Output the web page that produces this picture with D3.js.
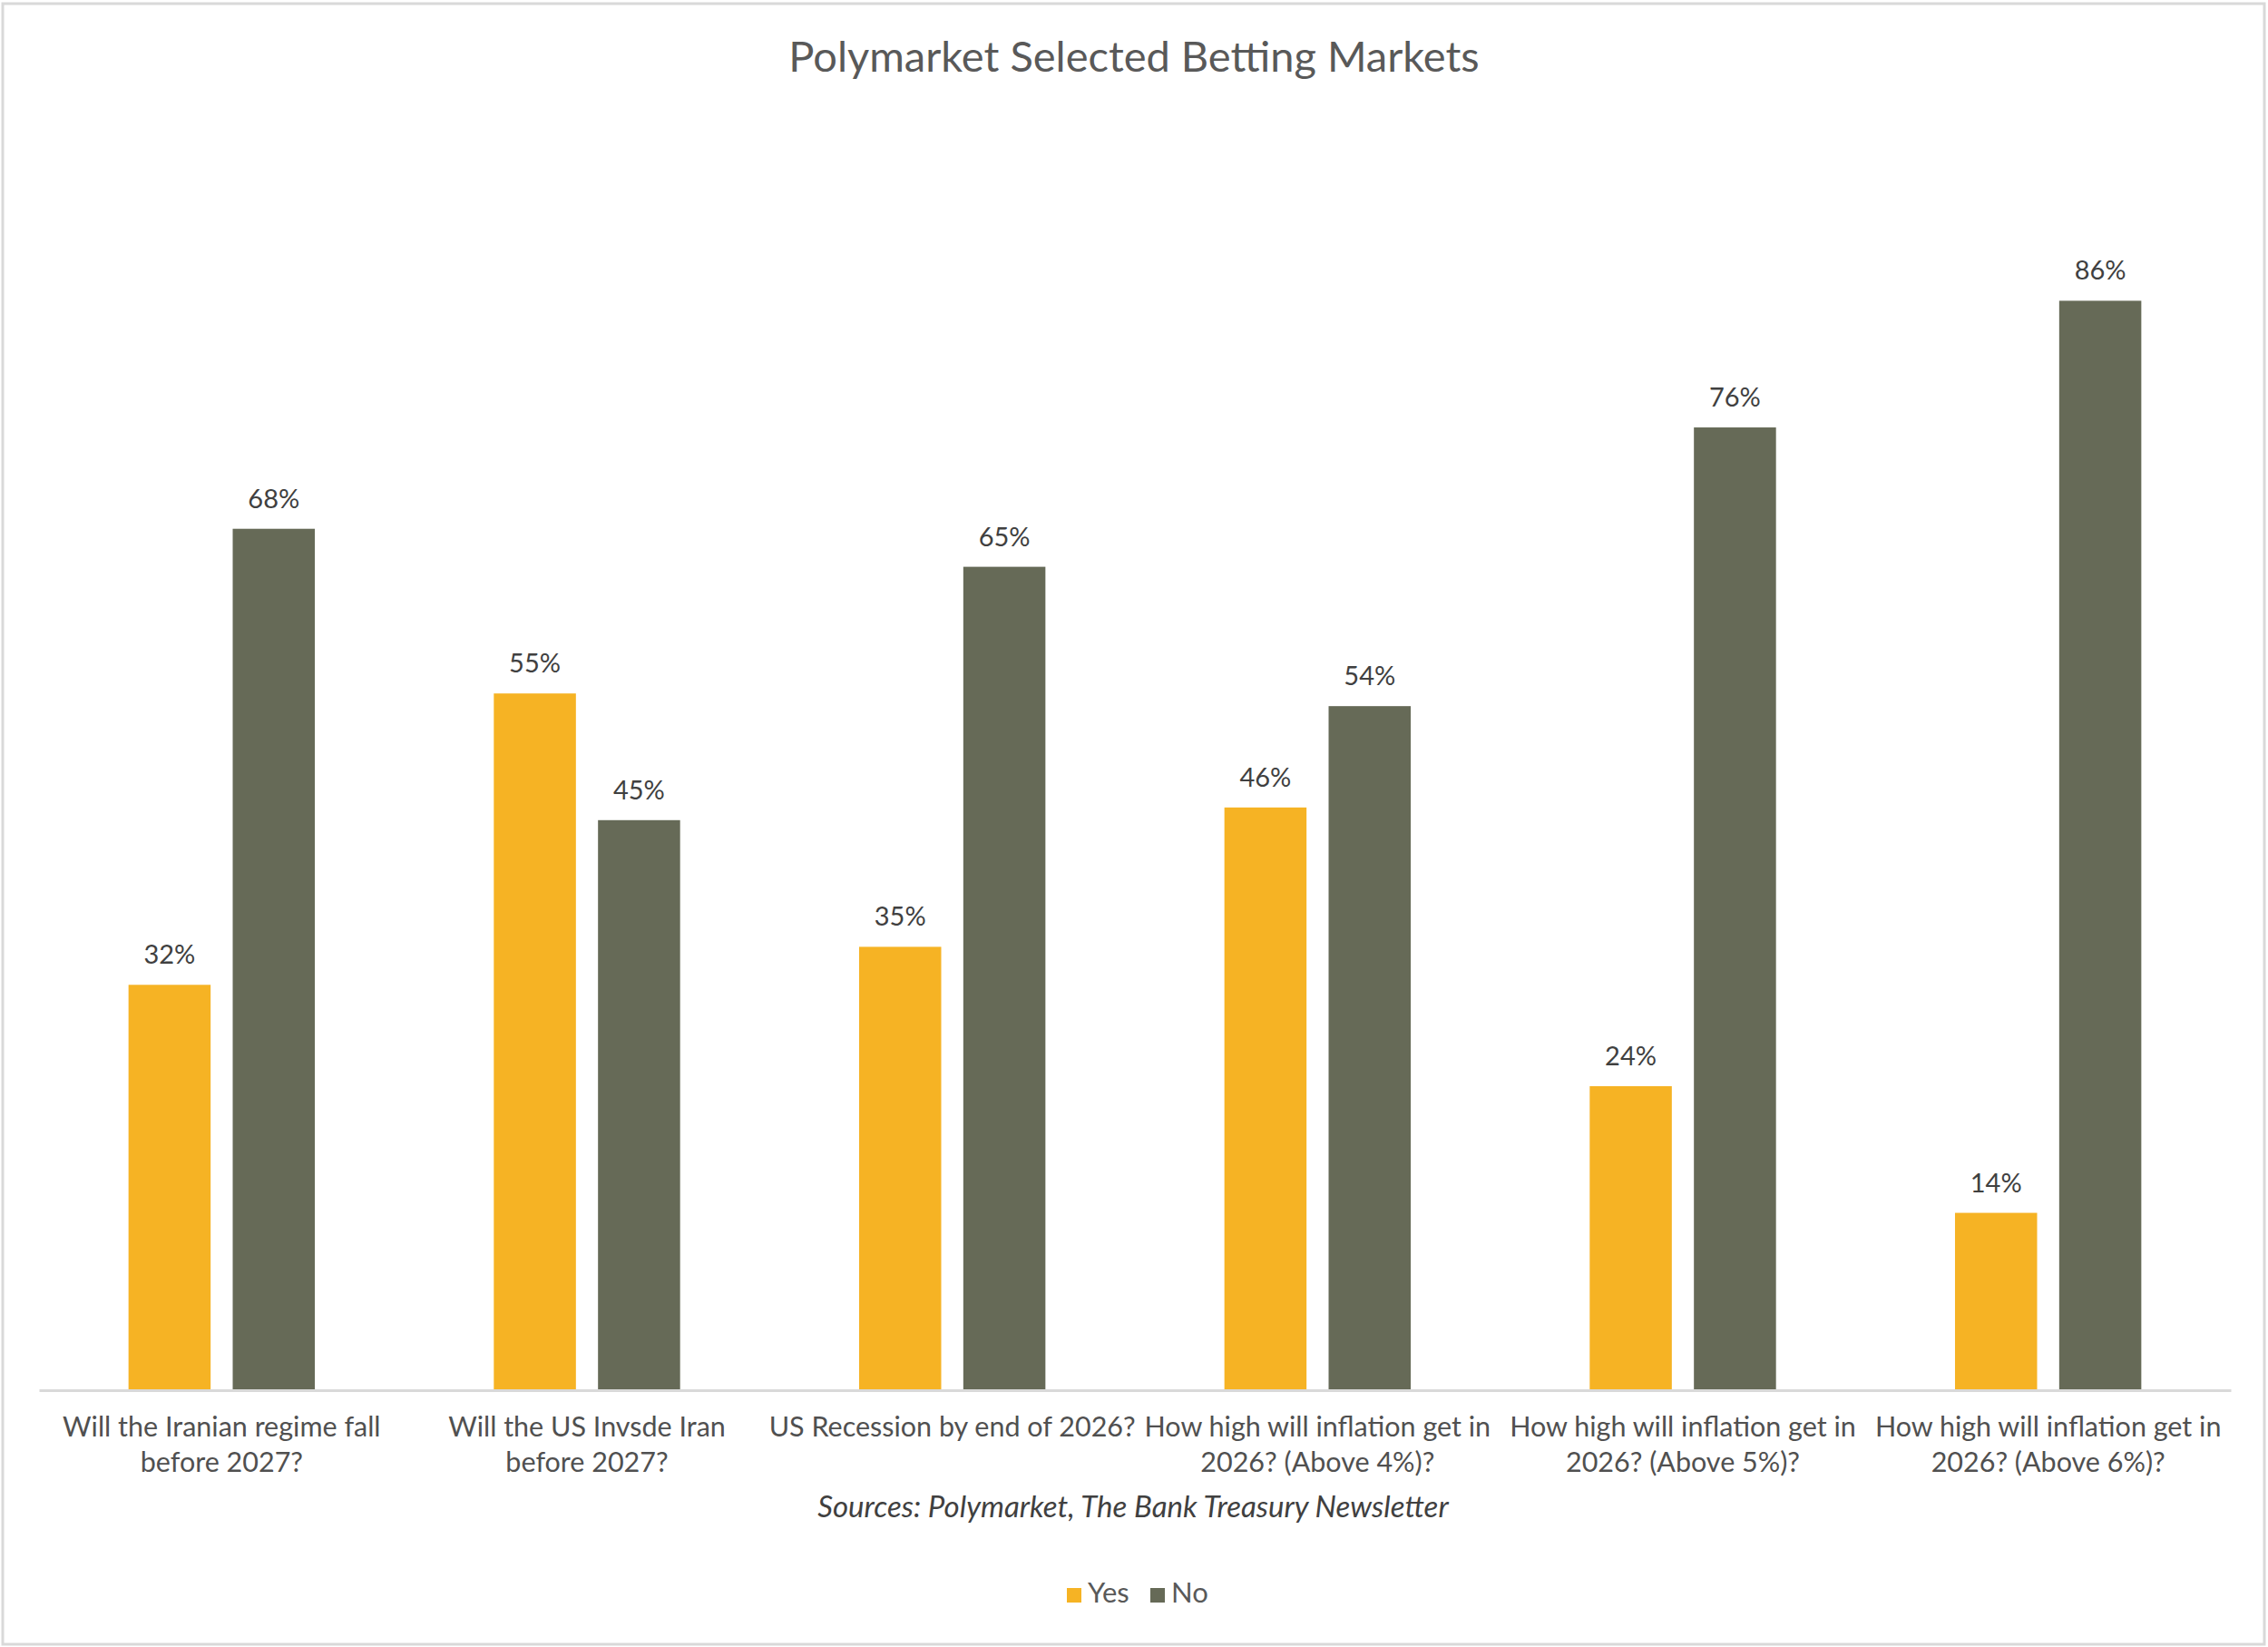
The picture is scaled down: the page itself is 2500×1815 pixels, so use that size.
<!DOCTYPE html>
<html>
<head>
<meta charset="utf-8">
<script src="https://cdn.jsdelivr.net/npm/d3@7"></script>
<style>
  html, body { margin: 0; padding: 0; background: #fff; }
  svg { display: block; }
  text { font-family: Lato, "Open Sans", sans-serif; }
</style>
</head>
<body>
<script>
const categories = [
  "Will the Iranian regime fall\nbefore 2027?",
  "Will the US Invsde Iran\nbefore 2027?",
  "US Recession by end of 2026?",
  "How high will inflation get in\n2026? (Above 4%)?",
  "How high will inflation get in\n2026? (Above 5%)?",
  "How high will inflation get in\n2026? (Above 6%)?"
];
const seriesNames = ["Yes", "No"];
const yesValues = [0.32, 0.55, 0.35, 0.46, 0.24, 0.14];
const noValues  = [0.68, 0.45, 0.65, 0.54, 0.76, 0.86];
const colors = ["#F6B324", "#666A57"];
const titleText = "Polymarket Selected Betting Markets";
const sourceText = "Sources: Polymarket, The Bank Treasury Newsletter";

const W = 2500, H = 1815;
const svg = d3.select("body").append("svg").attr("width", W).attr("height", H);

// chart border
svg.append("rect").attr("x", 3).attr("y", 4).attr("width", W - 7).attr("height", H - 7)
  .attr("fill", "#fff").attr("stroke", "#d9d9d9").attr("stroke-width", 3);

const x0 = d3.scaleBand().domain(categories).range([43, 2459]).paddingInner(0).paddingOuter(0);
const bw = x0.bandwidth();
const x1 = d3.scaleBand().domain(seriesNames).range([bw * 0.245, bw * 0.755]).paddingInner(0.212).paddingOuter(0);
const y = d3.scaleLinear().domain([0, 1]).range([1532, 136]);

const data = categories.map((c, i) => ({ cat: c, vals: [
  { s: "Yes", v: yesValues[i] }, { s: "No", v: noValues[i] } ] }));

// title
svg.append("text").attr("x", 1250).attr("y", 79).attr("text-anchor", "middle")
  .attr("font-size", 47).attr("fill", "#595959").text(titleText);

const groups = svg.append("g").selectAll("g").data(data).join("g")
  .attr("transform", d => `translate(${x0(d.cat)},0)`);

groups.selectAll("rect").data(d => d.vals).join("rect")
  .attr("x", d => x1(d.s)).attr("width", x1.bandwidth())
  .attr("y", d => y(d.v)).attr("height", d => y(0) - y(d.v))
  .attr("fill", (d, i) => colors[i]);

groups.selectAll("text.lbl").data(d => d.vals).join("text").attr("class", "lbl")
  .attr("x", d => x1(d.s) + x1.bandwidth() / 2).attr("y", d => y(d.v) - 23)
  .attr("text-anchor", "middle").attr("font-size", 29).attr("fill", "#404040")
  .text(d => d3.format(".0%")(d.v));

// x axis line
const xAxis = d3.axisBottom(x0).tickSize(0).tickFormat("");
const ax = svg.append("g").attr("transform", `translate(0,${y(0)})`).call(xAxis);
ax.select(".domain").attr("stroke", "#d9d9d9").attr("stroke-width", 3);

// category labels
const catLabels = svg.append("g").selectAll("text").data(categories).join("text")
  .attr("x", d => x0(d) + bw / 2).attr("y", 1583)
  .attr("text-anchor", "middle").attr("font-size", 30.5).attr("fill", "#505050");
catLabels.selectAll("tspan").data(d => d.split("\n")).join("tspan")
  .attr("x", function() { return d3.select(this.parentNode).attr("x"); })
  .attr("dy", (d, i) => i === 0 ? 0 : 39).text(d => d);

// source
svg.append("text").attr("x", 1249).attr("y", 1672).attr("text-anchor", "middle")
  .attr("font-size", 33).attr("font-style", "italic").attr("fill", "#404040").text(sourceText);

// legend
const legendX = [1176, 1268];
const lg = svg.append("g").selectAll("g").data(seriesNames).join("g")
  .attr("transform", (d, i) => `translate(${legendX[i]},0)`);
lg.append("rect").attr("x", 0).attr("y", 1750).attr("width", 16).attr("height", 16)
  .attr("fill", (d, i) => colors[i]);
lg.append("text").attr("x", 23).attr("y", 1766).attr("font-size", 31).attr("fill", "#595959").text(d => d);
</script>
</body>
</html>
